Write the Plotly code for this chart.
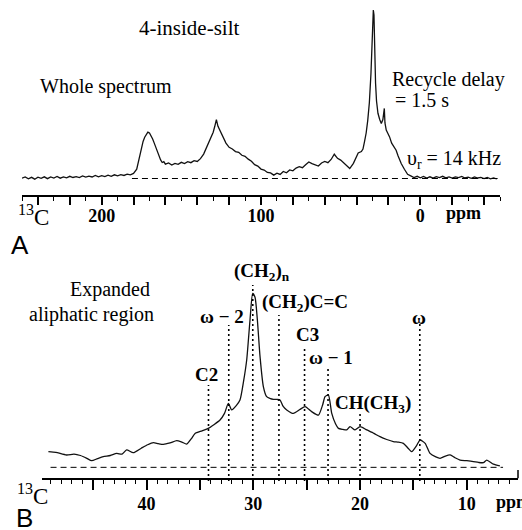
import plotly.graph_objects as go

W, H = 522, 530

# ---------------- Panel A: whole spectrum (ppm, relative intensity) ----------------
a_ppm = [250, 248, 246, 244, 242, 240, 238, 236, 234, 232, 230, 228, 226, 224, 222, 220,
         218, 216, 214, 212, 210, 208, 206, 204, 202, 200, 198, 196, 194, 192, 190, 188,
         186, 184, 182, 180, 178, 177, 176, 175, 174, 173, 172, 171, 170, 169, 168, 167,
         166, 165, 164, 163, 162, 161, 160, 158, 156, 154, 152, 150, 148, 146, 144, 142,
         140, 138, 136, 134, 132, 131, 130, 129, 128, 127, 126, 125, 124, 123, 122, 120,
         118, 116, 114, 112, 110, 108, 106, 104, 102, 100, 98, 96, 94, 92, 90, 88,
         86, 84, 82, 80, 78, 76, 74, 72, 70, 68, 66, 64, 62, 60, 58, 56,
         54, 53, 52, 50, 48, 46, 44.3, 42, 40, 39, 37, 36, 35, 34, 33, 32,
         31, 30.5, 30, 29.5, 29.1, 28.6, 28.1, 27.5, 26.6, 25.5, 24.5, 23.5, 23, 22.6, 22.2, 21.4,
         20.5, 19.3, 18, 16.5, 15.2, 14, 12, 10, 8, 6, 4, 2, 0, -2, -4, -6,
         -8, -10, -12, -14, -16, -18, -20, -22, -24, -26, -28, -30, -32, -34, -36, -38,
         -40, -42, -44, -46, -48]
a_int = [0.2, 0.9, -0.2, 0.7, -0.4, 0.8, 0.1, 1.0, -0.1, 0.9, 0.3, 1.2, 0.2, 1.0, 0.4, 1.3,
         0.6, 1.1, 0.5, 1.5, 0.8, 1.4, 0.9, 1.8, 1.0, 1.7, 1.1, 2.0, 1.3, 2.2, 1.6, 2.3,
         1.8, 2.6, 2.2, 3.0, 5.5, 10, 15, 19, 22, 24.5, 26, 27.5, 27, 25.5, 23.5, 21,
         18.5, 15, 13, 11, 9.5, 10, 8.5, 9.2, 8.0, 9.0, 8.4, 9.6, 8.9, 10.0, 9.4, 10.6,
         10.1, 11.8, 14.5, 19, 23, 25, 27.5, 31, 35, 31, 29, 26.5, 24.5, 22, 21, 18.5,
         17.5, 16, 15.5, 13.8, 13.2, 11.5, 10.2, 8.2, 7.4, 5.6, 5.0, 3.6, 3.3, 2.0, 3.2, 2.4,
         4.2, 3.4, 5.1, 4.6, 6.2, 7.0, 6.4, 8.2, 9.8, 8.8, 8.2, 7.4, 9.2, 10.1, 9.4, 11.3,
         14.4, 13.0, 12.0, 10.9, 9.2, 7.0, 5.9, 9.0, 13.5, 15.2, 16.0, 17.5, 22, 27, 34.5, 45,
         62, 80, 92, 100, 97, 72, 56.5, 46, 38.7, 35, 32.7, 35, 38, 41.6, 33, 28.7,
         27, 24.7, 21, 18.5, 16.8, 13.5, 8.9, 5.5, 2.5, 1.6, 0.6, 1.3, 0.4, 1.2, 0.3, 1.0,
         0.2, 1.1, 0.5, 1.3, 0.4, 0.9, 0.2, 1.0, 0.5, 1.2, 0.3, 0.8, 0.1, 0.9, 0.3, 0.7,
         0.0, 0.6, -0.2, 0.4, -0.3]

a_major = [240, 220, 200, 180, 160, 140, 120, 100, 80, 60, 40, 20, 0, -20, -40]
a_labels = {200: "200", 100: "100", 0: "0"}

# ---------------- Panel B: expanded aliphatic region ----------------
b_ppm = [49.2, 48.5, 47.5, 46.8, 46.2, 45.6, 45.15, 44.6, 44.06, 43.4, 42.8, 42.3, 41.87,
         41.25, 40.5, 39.9, 39.37, 38.9, 38.43, 37.8, 37.18, 36.7, 36.24, 35.8, 35.46, 34.8,
         34.22, 33.7, 33.12, 32.7, 32.34, 32.03, 31.6, 31.25, 30.9, 30.62, 30.31, 30.06,
         29.84, 29.62, 29.37, 29.06, 28.75, 28.4, 28.12, 27.8, 27.5, 27.2, 26.87, 26.25,
         25.62, 25.15, 24.53, 23.9, 23.5, 23.28, 22.97, 22.65, 22.3, 22.03, 21.6, 21.25,
         20.94, 20.47, 20.0, 19.37, 18.7, 18.13, 17.5, 16.88, 16.4, 15.94, 15.5, 15.16,
         14.7, 14.38, 13.9, 13.44, 12.9, 12.5, 12.0, 11.56, 11.1, 10.63, 10.0, 9.38, 8.9,
         8.44, 8.13, 7.5, 6.9]
b_int = [9.0, 8.6, 7.1, 7.6, 6.8, 5.2, 3.8, 5.0, 6.1, 6.8, 8.0, 7.6, 10.0,
         8.4, 11.0, 13.0, 14.2, 13.6, 13.2, 14.0, 15.3, 14.5, 13.4, 16.5, 19.5, 21.0,
         22.4, 24.5, 27.2, 31.0, 36.8, 33.0, 35.5, 38.7, 50.0, 61.7, 84.7, 100.0,
         97.7, 84.7, 63.6, 46.4, 40.6, 39.5, 39.1, 39.0, 38.7, 35.0, 33.0, 31.0,
         33.3, 34.9, 32.0, 30.0, 36.0, 40.6, 41.6, 31.0, 25.0, 22.4, 21.8, 21.5,
         23.4, 21.5, 23.4, 21.5, 19.5, 17.6, 16.0, 14.8, 14.5, 13.8, 11.0, 9.0,
         12.5, 15.7, 13.8, 8.0, 6.0, 5.2, 6.5, 7.1, 5.5, 4.2, 3.8, 3.3, 2.8,
         2.7, 4.2, 1.8, 0.8]

b_major = [45, 40, 35, 30, 25, 20, 15, 10]
b_labels = {40: "40", 30: "30", 20: "20", 10: "10"}

# peak assignments (label, ppm)
assign_names = ["C2", "\u03c9 \u2212 2", "(CH<sub>2</sub>)<sub>n</sub>", "(CH<sub>2</sub>)C=C",
                "C3", "\u03c9 \u2212 1", "CH(CH<sub>3</sub>)", "\u03c9"]
assign_ppm = [34.2, 32.3, 30.05, 27.6, 25.2, 23.0, 20.0, 14.4]
# layout (pixels): top of dotted line, label centre
line_top_px = [385, 325, 285, 315, 348, 367, 413, 323]
label_xy_px = [(206, 374), (222, 316), (262, 272), (305, 303),
               (307, 334), (331, 357), (373, 404), (419, 317)]

SERIF = "Liberation Serif, Times New Roman, serif"
SANS = "Liberation Sans, Arial, sans-serif"


def px(x):
    return x / W


def py(y):
    return 1 - y / H


fig = go.Figure()
fig.add_trace(go.Scatter(x=a_ppm, y=a_int, mode="lines", xaxis="x", yaxis="y",
                         line=dict(color="#111", width=1.3), showlegend=False,
                         hoverinfo="skip"))
fig.add_trace(go.Scatter(x=b_ppm, y=b_int, mode="lines", xaxis="x2", yaxis="y2",
                         line=dict(color="#111", width=1.3, shape="spline", smoothing=0.6),
                         showlegend=False, hoverinfo="skip"))

common_x = dict(showgrid=False, zeroline=False, showline=True, linecolor="black",
                linewidth=2, ticks="outside", tickcolor="black",
                tickfont=dict(family=SERIF, size=18, color="black", weight="bold"),
                tickmode="array")

fig.update_layout(
    width=W, height=H, margin=dict(l=0, r=0, t=0, b=0),
    paper_bgcolor="white", plot_bgcolor="white",
    xaxis=dict(common_x, domain=[px(22), px(500)], range=[250, -50], anchor="y",
               tickvals=a_major, ticktext=[a_labels.get(v, "") for v in a_major],
               ticklen=8, tickwidth=1.5, ticklabelstandoff=-5,
               minor=dict(dtick=10, tick0=0, ticks="outside", ticklen=4,
                          tickwidth=1.2, tickcolor="black")),
    xaxis3=dict(overlaying="x", domain=[px(22), px(500)], range=[250, -50], anchor="y",
                showgrid=False, zeroline=False, showline=False, showticklabels=False,
                ticks="inside", dtick=2, tick0=0, ticklen=2, tickwidth=1,
                tickcolor="#333"),
    yaxis=dict(domain=[py(195), py(8)], range=[-9.79, 101.2], visible=False,
               anchor="x"),
    xaxis2=dict(common_x, domain=[px(42), px(518)], range=[49.8, 5.2], anchor="y2",
                tickvals=b_major, ticktext=[b_labels.get(v, "") for v in b_major],
                ticklen=10, tickwidth=1.5, ticklabelstandoff=-2,
                minor=dict(dtick=1, tick0=0, ticks="outside", ticklen=4,
                           tickwidth=1.2, tickcolor="black")),
    yaxis2=dict(domain=[py(478.3), py(262)], range=[-6.3, 118], visible=False,
                anchor="x2"),
)

shapes = []
# dashed baselines
shapes.append(dict(type="line", xref="x", yref="y", x0=181, x1=-48.5, y0=0, y1=0,
                   line=dict(color="black", width=1, dash="6px,4px")))
shapes.append(dict(type="line", xref="x2", yref="y2", x0=49.0, x1=6.6, y0=0, y1=0,
                   line=dict(color="black", width=1, dash="6px,4px")))
# dotted assignment lines
for p, top in zip(assign_ppm, line_top_px):
    shapes.append(dict(type="line", xref="x2", yref="paper", x0=p, x1=p,
                       y0=py(481), y1=py(top),
                       line=dict(color="black", width=1.6, dash="2px,3px")))
# right-end upward tick of panel B axis
shapes.append(dict(type="line", xref="x2 domain", yref="paper", x0=1, x1=1,
                   y0=py(478.3), y1=py(470), line=dict(color="black", width=1.5)))
fig.update_layout(shapes=shapes)

ann = []


def text(x, y, s, size=19, family=SERIF, xanchor="center", yanchor="middle",
         weight="bold"):
    ann.append(dict(x=px(x), y=py(y), xref="paper", yref="paper", text=s,
                    showarrow=False, xanchor=xanchor, yanchor=yanchor,
                    font=dict(family=family, size=size, color="black", weight=weight)))


text(189, 28, "4-inside-silt", size=21, weight="normal")
text(106, 87, "Whole spectrum", size=20, weight="normal")
text(448, 80, "Recycle delay", size=20, weight="normal")
text(393, 100, "= 1.5 s", size=20, xanchor="left", weight="normal")
text(405, 159, "\u03c5<sub>r</sub> = 14 kHz", size=20, xanchor="left", weight="normal")
text(16, 215, "<sup>13</sup>C", size=23, xanchor="left", weight="normal")
text(444, 213, "ppm", size=18, xanchor="left")
text(20, 245, "A", size=26, family=SANS, weight="normal")

text(110, 289, "Expanded", size=20, weight="normal")
text(91, 314, "aliphatic region", size=20, weight="normal")
for name, (lx, ly) in zip(assign_names, label_xy_px):
    text(lx, ly, name)
text(15, 494, "<sup>13</sup>C", size=23, xanchor="left", weight="normal")
text(494, 502, "ppm", size=18, xanchor="left")
text(24, 518, "B", size=26, family=SANS, weight="normal")

fig.update_layout(annotations=ann)

fig.write_html("out.html", config={"displayModeBar": False},
               post_script="document.body.style.margin='0';")
